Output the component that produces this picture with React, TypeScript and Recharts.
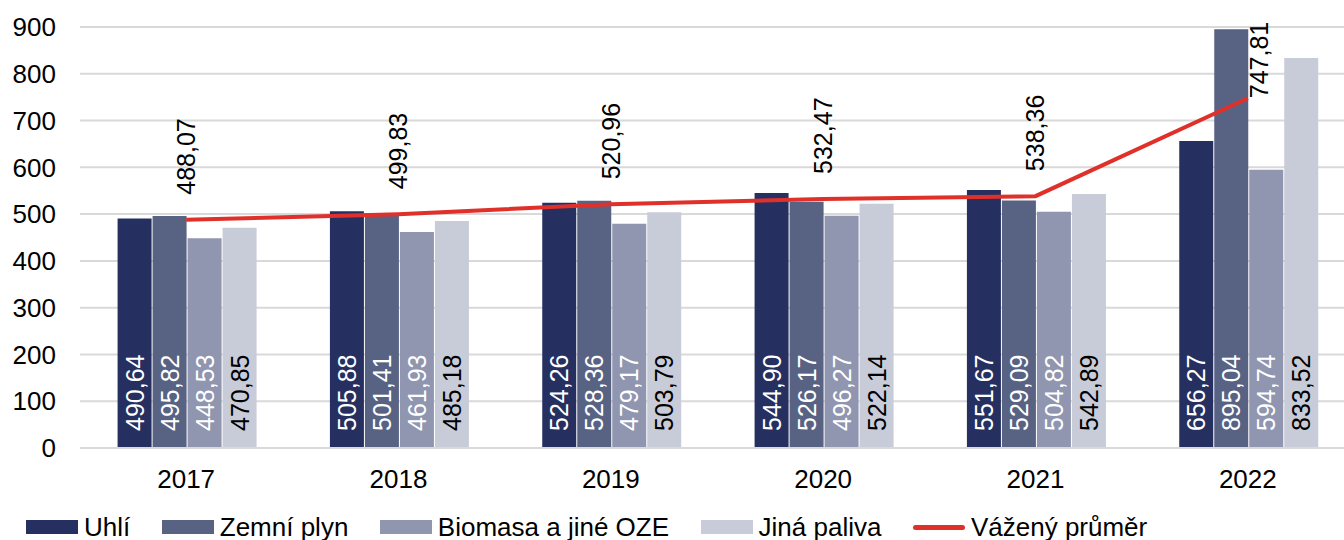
import React from 'react';
import {
  ComposedChart,
  Bar,
  Line,
  XAxis,
  YAxis,
  CartesianGrid,
  LabelList,
} from 'recharts';

const years = ['2017', '2018', '2019', '2020', '2021', '2022'];
const uhli = [490.64, 505.88, 524.26, 544.9, 551.67, 656.27];
const zemniPlyn = [495.82, 501.41, 528.36, 526.17, 529.09, 895.04];
const biomasa = [448.53, 461.93, 479.17, 496.27, 504.82, 594.74];
const jinaPaliva = [470.85, 485.18, 503.79, 522.14, 542.89, 833.52];
const vazenyPrumer = [488.07, 499.83, 520.96, 532.47, 538.36, 747.81];
const yTicks = [0, 100, 200, 300, 400, 500, 600, 700, 800, 900];

const FONT = '"Liberation Sans", Arial, sans-serif';

const chartData = years.map((year, i) => ({
  year,
  uhli: uhli[i],
  plyn: zemniPlyn[i],
  bio: biomasa[i],
  jina: jinaPaliva[i],
  avg: vazenyPrumer[i],
}));

const fmt = (v: number) => v.toFixed(2).replace('.', ',');

// popisky uvnitř sloupců, otočené o 90°
const barLabel = (color: string) => (props: any) => {
  const { x, y, width, height, value } = props;
  const cx = x + width / 2 + 9;
  const by = y + height - 17;
  return (
    <text
      x={cx}
      y={by}
      transform={`rotate(-90, ${cx}, ${by})`}
      textAnchor="start"
      fill={color}
      fontSize={25}
      fontFamily={FONT}
    >
      {fmt(value)}
    </text>
  );
};

const lineLabel = (props: any) => {
  const { x, y, value, index } = props;
  const last = index === years.length - 1;
  const lx = last ? x + 20 : x + 9;
  const ly = last ? y : y - 25;
  return (
    <text
      x={lx}
      y={ly}
      transform={`rotate(-90, ${lx}, ${ly})`}
      textAnchor="start"
      fill="#000"
      fontSize={25}
      fontFamily={FONT}
    >
      {fmt(value)}
    </text>
  );
};

const legendItems = [
  { name: 'Uhlí', color: '#253060', line: false },
  { name: 'Zemní plyn', color: '#586384', line: false },
  { name: 'Biomasa a jiné OZE', color: '#9095B0', line: false },
  { name: 'Jiná paliva', color: '#C8CCD8', line: false },
  { name: 'Vážený průměr', color: '#E0302A', line: true },
];

export default function App() {
  return (
    <div
      style={{
        position: 'absolute',
        left: 0,
        top: 0,
        width: 1344,
        height: 540,
        overflow: 'hidden',
        background: '#fff',
        fontFamily: FONT,
      }}
    >
      <ComposedChart
        width={1400}
        height={540}
        data={chartData}
        margin={{ top: 27, right: 46, bottom: 0, left: 0 }}
        barCategoryGap="17.7%"
        barGap={1}
      >
        <CartesianGrid vertical={false} stroke="#D9D9D9" strokeWidth={2} />
        <XAxis
          dataKey="year"
          height={92}
          axisLine={{ stroke: '#D9D9D9', strokeWidth: 2 }}
          tickLine={false}
          tickMargin={16}
          tick={{ fill: '#000', fontSize: 26, fontFamily: FONT }}
        />
        <YAxis
          width={80}
          domain={[0, 900]}
          ticks={yTicks}
          axisLine={false}
          tickLine={false}
          tickMargin={18}
          tick={{ fill: '#000', fontSize: 26, fontFamily: FONT }}
        />
        <Bar dataKey="uhli" fill="#253060" isAnimationActive={false}>
          <LabelList dataKey="uhli" content={barLabel('#fff')} />
        </Bar>
        <Bar dataKey="plyn" fill="#586384" isAnimationActive={false}>
          <LabelList dataKey="plyn" content={barLabel('#fff')} />
        </Bar>
        <Bar dataKey="bio" fill="#9095B0" isAnimationActive={false}>
          <LabelList dataKey="bio" content={barLabel('#fff')} />
        </Bar>
        <Bar dataKey="jina" fill="#C8CCD8" isAnimationActive={false}>
          <LabelList dataKey="jina" content={barLabel('#000')} />
        </Bar>
        <Line
          dataKey="avg"
          type="linear"
          stroke="#E0302A"
          strokeWidth={4}
          dot={false}
          isAnimationActive={false}
        >
          <LabelList dataKey="avg" content={lineLabel} />
        </Line>
      </ComposedChart>
      <div
        style={{
          position: 'absolute',
          left: 26,
          top: 512,
          height: 30,
          display: 'flex',
          alignItems: 'center',
          gap: 31.5,
          fontSize: 26,
          color: '#000',
          whiteSpace: 'nowrap',
        }}
      >
        {legendItems.map((item) => (
          <div key={item.name} style={{ display: 'flex', alignItems: 'center' }}>
            <div
              style={{
                width: 52,
                height: item.line ? 5 : 14,
                borderRadius: item.line ? 3 : 0,
                background: item.color,
                marginRight: 6,
              }}
            />
            {item.name}
          </div>
        ))}
      </div>
    </div>
  );
}
